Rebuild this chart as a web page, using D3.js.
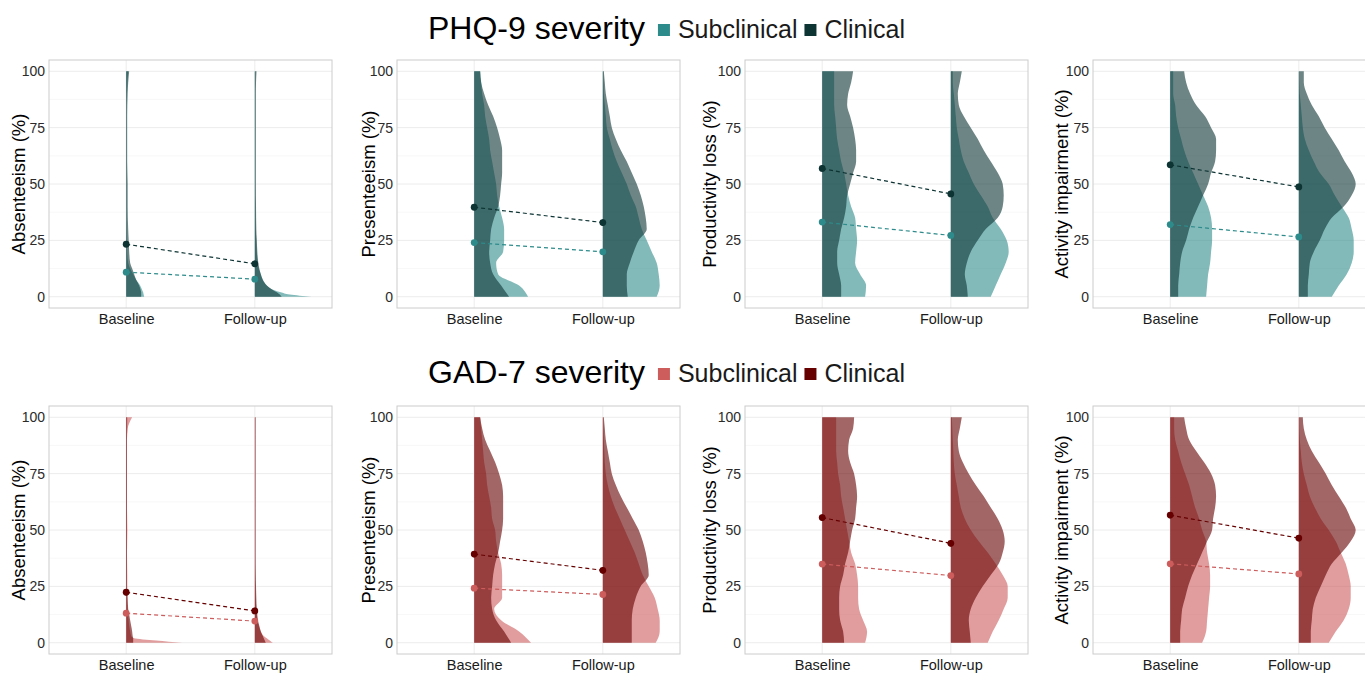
<!DOCTYPE html>
<html><head><meta charset="utf-8">
<script src="https://cdn.jsdelivr.net/npm/d3@7"></script>
<style>
body{margin:0;background:#fff;}
text{font-family:"Liberation Sans",Arial,Helvetica,sans-serif;}
</style>
</head><body>
<svg id="c" width="1365" height="673"></svg>
<script>
// ---------------- DATA ----------------
const timepoints = ["Baseline", "Follow-up"];
const groups = ["Subclinical", "Clinical"];
const outcomes = ["Absenteeism (%)", "Presenteeism (%)", "Productivity loss (%)", "Activity impairment (%)"];
const severityTitles = ["PHQ-9 severity", "GAD-7 severity"];
const yTicks = [0, 25, 50, 75, 100];
const yMinorTicks = [12.5, 37.5, 62.5, 87.5];

// y-levels at which the half-violin densities were read
const densityLevels = [0,5,10,15,20,25,30,35,40,45,50,55,60,65,70,75,80,85,90,95,100];
const absLevels = [0,1,2,3,5,7.5,10,12.5,15,20,25,30,40,50,60,70,80,90,95,100];

// relative density widths (arbitrary units, max ~58)
// PHQ-9
const phq_abs_sub_bl = [18,17.5,17,16,14,10,7,4,2,1,0.8,0.6,0.5,0.5,0.5,0.5,0.5,0.8,1.2,2];
const phq_abs_cli_bl = [15,15,15,14.5,13,10,8,6,4,3,2.5,2,1.5,1.5,1,1,1,1.5,2,3];
const phq_abs_sub_fu = [57,35,26,19,12,8,6,4,3,2,1.5,1,0.7,0.5,0.5,0.5,0.5,0.5,0.5,0.5];
const phq_abs_cli_fu = [27,25,22,18,12,8,6,4.5,3.5,2.5,2,1.5,1.2,1,1,1,1,1,1.2,1.7];

const phq_pre_sub_bl = [54,45,24,22,29,30,30,28,25,23,22,20,18,16,15,13,11,10,8,7,6];
const phq_pre_cli_bl = [35,27,19,16,15,16,17,20,24,26,27,28,28,28,26,23,19,14,10,7,6];
const phq_pre_sub_fu = [54,57,56,54,49,44,39,36,33,28,24,19,14,10,7,4,3,2,1,0.7,0.5];
const phq_pre_cli_fu = [25,24,24,27,31,36,44,43,41,38,34,29,24,18,13,9,7,5,3,2,1];

const phq_pro_sub_bl = [43,44,38,33,34,35,34,33,29,26,24,22,19,17,15,14,13,12,12,12,12];
const phq_pro_cli_bl = [19,19,17,15,15,17,19,22,24,25,28,31,34,34,33,31,28,25,26,29,31];
const phq_pro_sub_fu = [40,45,50,55,58,56,50,42,37,30,23,18,13,10,8,6,5,4,3,2,2];
const phq_pro_cli_fu = [17,16,14,16,20,27,35,47,52,53,52,47,40,33,27,20,13,8,7,9,11];

const phq_act_sub_bl = [36,37,38,40,41,42,42,41,38,33,28,23,18,14,11,8,6,5,3,3,3];
const phq_act_cli_bl = [8,8,9,10,12,16,19,23,28,33,38,41,45,46,46,41,35,26,20,16,14];
const phq_act_sub_fu = [33,40,48,53,55,55,53,50,43,36,30,21,15,10,6,4,3,2,1,0.5,0.3];
const phq_act_cli_fu = [9,9,10,11,15,21,26,33,45,53,57,53,46,40,33,26,20,13,8,5,5];

// GAD-7
const gad_abs_sub_bl = [56,30,8,5,4,3,2.5,2,1.5,1,0.8,0.8,0.8,1.2,0.8,0.8,0.8,0.8,1.5,6];
const gad_abs_cli_bl = [7,7,7,6.5,6,5,4,3,2,1.5,1,1,0.8,0.8,0.8,0.8,0.8,0.8,1,1];
const gad_abs_sub_fu = [18,15,12,9,6,4,3,2,1.5,1,0.8,0.5,0.5,0.5,0.5,0.5,0.5,0.5,0.5,0.5];
const gad_abs_cli_fu = [11,10,9,8,6,4.5,3,2.5,2,1.5,1.2,1,0.8,0.8,0.8,0.8,0.8,0.8,0.8,0.8];

const gad_pre_sub_bl = [57,45,27,20,28,28,28,27,24,22,21,18,17,15,13,12,10,9,8,7,6];
const gad_pre_cli_bl = [37,30,22,18,17,18,19,21,24,26,28,29,29,29,28,25,21,16,11,8,6];
const gad_pre_sub_fu = [53,57,57,55,52,46,40,36,32,27,22,17,12,8,5,3,2,1.5,1,0.5,0.3];
const gad_pre_cli_fu = [29,29,29,30,33,38,46,45,43,40,36,30,24,18,13,9,7,5,3,2,1];

const gad_pro_sub_bl = [43,45,41,37,36,36,35,33,29,27,25,23,21,19,18,16,15,14,14,14,14];
const gad_pro_cli_bl = [22,21,18,17,17,18,21,23,26,28,30,33,34,35,34,32,28,26,27,31,32];
const gad_pro_sub_fu = [37,42,48,53,57,57,52,45,37,28,20,14,10,8,6,4,3,2.5,2,1.5,1];
const gad_pro_cli_fu = [20,19,18,20,25,32,40,48,52,54,52,47,40,33,25,18,12,8,7,9,11];

const gad_act_sub_bl = [32,36,37,38,39,40,40,39,37,36,32,29,25,22,19,15,11,8,5,4,4];
const gad_act_cli_bl = [10,10,11,12,15,18,22,27,32,37,42,43,45,46,45,41,34,26,19,16,14];
const gad_act_sub_fu = [30,37,45,50,52,52,50,47,42,37,30,22,16,11,8,5,3,2,1,0.5,0.3];
const gad_act_cli_fu = [12,12,13,14,17,22,27,33,43,52,57,52,47,40,33,27,20,13,8,5,4];

// group means [baseline, follow-up] per outcome
const phqSubMeans = [[10.9,7.8],[24.0,19.9],[33.1,27.2],[32.0,26.5]];
const phqCliMeans = [[23.3,14.6],[39.7,32.9],[56.9,45.6],[58.5,48.7]];
const gadSubMeans = [[13.1,9.6],[24.2,21.4],[34.9,29.8],[35.0,30.5]];
const gadCliMeans = [[22.4,14.1],[39.3,32.1],[55.5,44.1],[56.6,46.4]];
// standard errors
const subSE = [0.8, 0.8];
const cliSE = [1.4, 1.4];

// colours
const phqColors = ["#2E8B8B", "#0D3333"];
const gadColors = ["#CD5C5C", "#660000"];

// ---------------- ASSEMBLY ----------------
const violinSets = [
  [ // PHQ
    [[phq_abs_sub_bl, phq_abs_sub_fu],[phq_abs_cli_bl, phq_abs_cli_fu]],
    [[phq_pre_sub_bl, phq_pre_sub_fu],[phq_pre_cli_bl, phq_pre_cli_fu]],
    [[phq_pro_sub_bl, phq_pro_sub_fu],[phq_pro_cli_bl, phq_pro_cli_fu]],
    [[phq_act_sub_bl, phq_act_sub_fu],[phq_act_cli_bl, phq_act_cli_fu]]
  ],
  [ // GAD
    [[gad_abs_sub_bl, gad_abs_sub_fu],[gad_abs_cli_bl, gad_abs_cli_fu]],
    [[gad_pre_sub_bl, gad_pre_sub_fu],[gad_pre_cli_bl, gad_pre_cli_fu]],
    [[gad_pro_sub_bl, gad_pro_sub_fu],[gad_pro_cli_bl, gad_pro_cli_fu]],
    [[gad_act_sub_bl, gad_act_sub_fu],[gad_act_cli_bl, gad_act_cli_fu]]
  ]
];
const meanSets = [[phqSubMeans, phqCliMeans],[gadSubMeans, gadCliMeans]];
const colorSets = [phqColors, gadColors];
const seSets = [subSE, cliSE];

// ---------------- LAYOUT ----------------
const svg = d3.select("#c");
const colLeft = [49, 397, 745, 1093];
const rowTop = [60, 406];
const panelW = 283, panelH = 248;
const ylabBase = [25, 375, 716, 1068];
const titleBaseline = [39, 383];
const titleX = 428;

const defs = svg.append("defs");

severityTitles.forEach((title, r) => {
  // header title + legend
  const hdr = svg.append("g");
  const t = hdr.append("text").attr("x", titleX).attr("y", titleBaseline[r])
    .attr("font-size", 32).attr("fill", "#000").text(title);
  let x = titleX + t.node().getComputedTextLength() + 13;
  groups.forEach((g, gi) => {
    hdr.append("rect").attr("x", x).attr("y", titleBaseline[r] - 15)
      .attr("width", 12).attr("height", 12).attr("fill", colorSets[r][gi]);
    const lt = hdr.append("text").attr("x", x + 20).attr("y", titleBaseline[r] - 1)
      .attr("font-size", 25).attr("fill", "#1a1a1a").text(g);
    x = x + 20 + lt.node().getComputedTextLength() + 7;
  });

  outcomes.forEach((oc, c) => {
    const left = colLeft[c], top = rowTop[r];
    const x = d3.scalePoint().domain(timepoints).range([left, left + panelW]).padding(0.6);
    const y = d3.scaleLinear().domain([-5, 105]).range([top + panelH, top]);
    const w = d3.scaleLinear().domain([0, 58]).range([0, 0.45 * x.step()]);
    const levels = c === 0 ? absLevels : densityLevels;

    const clipId = `clip-${r}-${c}`;
    defs.append("clipPath").attr("id", clipId).append("rect")
      .attr("x", left).attr("y", top).attr("width", panelW).attr("height", panelH);

    const g = svg.append("g");
    // grid
    g.selectAll(".minor").data(yMinorTicks).join("line")
      .attr("x1", left).attr("x2", left + panelW)
      .attr("y1", d => y(d)).attr("y2", d => y(d))
      .attr("stroke", "#f4f4f4").attr("stroke-width", 0.6);
    g.selectAll(".major").data(yTicks).join("line")
      .attr("x1", left).attr("x2", left + panelW)
      .attr("y1", d => y(d)).attr("y2", d => y(d))
      .attr("stroke", "#ececec").attr("stroke-width", 1);
    g.selectAll(".vmajor").data(timepoints).join("line")
      .attr("x1", d => x(d)).attr("x2", d => x(d))
      .attr("y1", top).attr("y2", top + panelH)
      .attr("stroke", "#ececec").attr("stroke-width", 1);

    const plot = g.append("g").attr("clip-path", `url(#${clipId})`);
    // half violins: subclinical first, clinical on top
    groups.forEach((grp, gi) => {
      timepoints.forEach((tp, ti) => {
        const dens = violinSets[r][c][gi][ti];
        const pts = levels.map((v, i) => ({v, d: dens[i]}));
        const area = d3.area()
          .curve(d3.curveMonotoneY)
          .y(p => y(p.v))
          .x0(() => x(tp))
          .x1(p => x(tp) + w(p.d));
        plot.append("path").attr("d", area(pts))
          .attr("fill", colorSets[r][gi]).attr("fill-opacity", 0.6).attr("stroke", "none");
      });
    });
    // dashed connecting lines, error bars and points
    groups.forEach((grp, gi) => {
      const m = meanSets[r][gi][c];
      const col = colorSets[r][gi];
      const pts = timepoints.map((tp, ti) => ({tp, v: m[ti], se: seSets[gi][ti]}));
      plot.append("path")
        .attr("d", d3.line().x(p => x(p.tp)).y(p => y(p.v))(pts))
        .attr("fill", "none").attr("stroke", col).attr("stroke-width", 1.2)
        .attr("stroke-dasharray", "4,3");
      plot.selectAll(null).data(pts).join("line")
        .attr("x1", p => x(p.tp)).attr("x2", p => x(p.tp))
        .attr("y1", p => y(p.v - p.se)).attr("y2", p => y(p.v + p.se))
        .attr("stroke", col).attr("stroke-width", 1.8);
      plot.selectAll(null).data(pts).join("circle")
        .attr("cx", p => x(p.tp)).attr("cy", p => y(p.v)).attr("r", 3.4)
        .attr("fill", col);
    });

    // border
    g.append("rect").attr("x", left).attr("y", top).attr("width", panelW).attr("height", panelH)
      .attr("fill", "none").attr("stroke", "#cccccc").attr("stroke-width", 1);

    // axes
    const ya = g.append("g").attr("transform", `translate(${left},0)`)
      .call(d3.axisLeft(y).tickValues(yTicks).tickSize(0).tickPadding(4).tickFormat(d3.format("d")));
    ya.select(".domain").remove();
    ya.selectAll("text").attr("font-size", 14).attr("fill", "#2b2b2b")
      .style("font-family", '"Liberation Sans",Arial,sans-serif');
    const xa = g.append("g").attr("transform", `translate(0,${top + panelH})`)
      .call(d3.axisBottom(x).tickSize(0).tickPadding(6));
    xa.select(".domain").remove();
    xa.selectAll("text").attr("font-size", 14.5).attr("fill", "#1a1a1a").attr("dy", "0.71em")
      .style("font-family", '"Liberation Sans",Arial,sans-serif');

    g.append("text")
      .attr("transform", `translate(${ylabBase[c]},${y(50)}) rotate(-90)`)
      .attr("text-anchor", "middle").attr("font-size", 18.5).attr("fill", "#000")
      .text(oc);
  });
});
</script>
</body></html>
